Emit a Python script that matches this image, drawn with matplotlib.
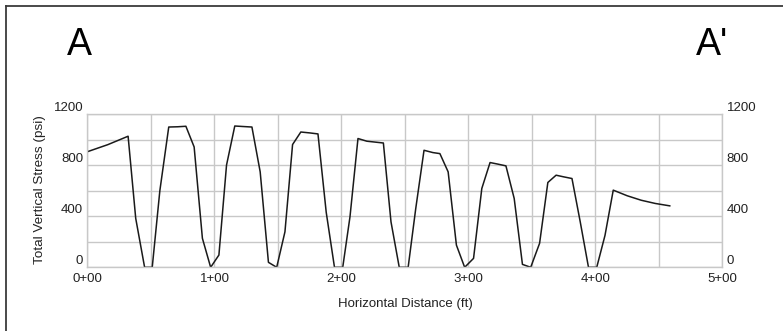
import matplotlib
matplotlib.use('Agg')
import matplotlib.pyplot as plt
from matplotlib.lines import Line2D

plt.rcParams['font.family'] = ['Liberation Sans', 'DejaVu Sans']

# distance le long de la coupe (ft) et contrainte verticale totale (psi)
distance = [0, 16, 32, 38, 45, 51, 57, 64, 71, 77.5, 84, 90.5, 97, 103.5, 109.5, 116,
            122.5, 129.5, 136, 142.5, 149, 155.5, 161.5, 168, 175, 181.5, 188, 194.5,
            201, 206.7, 213, 220, 226.5, 233, 239, 245.5, 252.5, 258.5, 265, 272,
            277.5, 284, 290.5, 297, 304, 310.5, 317, 323, 329.5, 336, 342.5, 349,
            356, 362.5, 369, 375, 381.5, 388, 394.5, 401, 407.5, 414, 425, 436, 447, 458.5]
stress = [905, 960, 1026, 383, 0, 0, 600, 1098, 1100, 1104, 942, 227, 0, 96, 800, 1106,
          1102, 1098, 747, 39, 0, 278, 961, 1059, 1052, 1044, 430, 0,
          0, 395, 1008, 987, 980, 973, 356, 0, 0, 461, 916, 898,
          890, 747, 174, 0, 70, 617, 820, 808, 794, 539, 23, 0,
          188, 664, 721, 708, 695, 356, 0, 0, 250, 604, 560, 525, 500, 481]

x_ticks = [0, 100, 200, 300, 400, 500]
x_labels = ['0+00', '1+00', '2+00', '3+00', '4+00', '5+00']
y_ticks = [0, 400, 800, 1200]

fig = plt.figure(figsize=(7.83, 3.31), dpi=100)
ax = fig.add_axes([0.1117, 0.1924, 0.811, 0.4632])

ax.plot(distance, stress, color='#1a1a1a', lw=1.1)

ax.set_xlim(0, 500)
ax.set_ylim(0, 1200)
ax.set_xticks(range(0, 501, 50))
ax.set_yticks(range(0, 1201, 200))
ax.grid(True, color='#c8c8c8', lw=1.0)
ax.set_axisbelow(True)
for s in ax.spines.values():
    s.set_color('#c8c8c8')
    s.set_linewidth(1.0)
ax.tick_params(length=0, labelsize=9.5, labelcolor='#222222')

# labels seulement tous les 100 ft et 400 psi
ax.set_xticklabels([x_labels[x_ticks.index(v)] if v in x_ticks else '' for v in range(0, 501, 50)])
ax.set_yticklabels([str(v) if v in y_ticks else '' for v in range(0, 1201, 200)])
ax.tick_params(axis='x', pad=4)
ax.tick_params(axis='y', pad=3, labelright=True, right=False)
for t in ax.yaxis.get_major_ticks():
    t.label1.set_va('bottom')
    t.label2.set_va('bottom')
    t.label2.set_ha('left')

ax.set_xlabel('Horizontal Distance (ft)', fontsize=9.5, color='#222222')
ax.xaxis.set_label_coords(0.5, -0.2)
ax.set_ylabel('Total Vertical Stress (psi)', fontsize=9.7, color='#222222')
ax.yaxis.set_label_coords(-0.065, 0.51)

fig.text(79.7 / 783, 1 - 45 / 331, 'A', fontsize=27, ha='center', va='center')
fig.text(696 / 783, 1 - 45 / 331, "A'", fontsize=27, ha='left', va='center')

# cadre (bord gauche et haut visibles)
fig.add_artist(Line2D([5.5 / 783, 5.5 / 783], [0, 1 - 6 / 331], transform=fig.transFigure,
                      color='#3a3a3a', lw=1.3))
fig.add_artist(Line2D([5.5 / 783, 1], [1 - 6 / 331, 1 - 6 / 331], transform=fig.transFigure,
                      color='#3a3a3a', lw=1.3))

plt.savefig('out.png', dpi=100)
plt.close()
